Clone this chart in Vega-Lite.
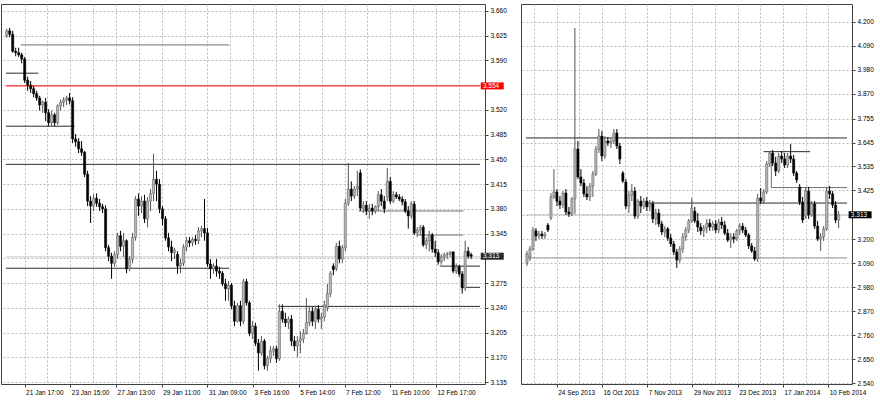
{
"$schema": "https://vega.github.io/schema/vega-lite/v6.json",
"padding": {"left": 0, "top": 3, "right": 0, "bottom": 0},
"background": "white",
"spacing": 36,
"bounds": "flush",
"config": {
  "view": {"stroke": "#404040", "strokeWidth": 1},
  "axis": {"labelFont": "Liberation Sans", "labelFontSize": 6.5, "labelColor": "#000000", "gridColor": "#bcbcbc", "gridDash": [2, 2], "gridWidth": 1, "gridOpacity": 1, "tickColor": "#404040", "tickSize": 3, "domain": false, "labelOverlap": false}
},
"datasets": {
  "left": [
{"i":1,"o":3.625,"h":3.635,"l":3.622,"c":3.632},{"i":2,"o":3.632,"h":3.636,"l":3.623,"c":3.627},{"i":3,"o":3.627,"h":3.632,"l":3.601,"c":3.603},{"i":4,"o":3.603,"h":3.608,"l":3.596,"c":3.601},{"i":5,"o":3.601,"h":3.608,"l":3.595,"c":3.598},{"i":6,"o":3.598,"h":3.601,"l":3.586,"c":3.592},{"i":7,"o":3.592,"h":3.595,"l":3.558,"c":3.562},{"i":8,"o":3.562,"h":3.567,"l":3.547,"c":3.555},{"i":9,"o":3.555,"h":3.561,"l":3.544,"c":3.550},{"i":10,"o":3.550,"h":3.554,"l":3.538,"c":3.543},
{"i":11,"o":3.543,"h":3.547,"l":3.533,"c":3.537},{"i":12,"o":3.537,"h":3.540,"l":3.519,"c":3.527},{"i":13,"o":3.527,"h":3.533,"l":3.516,"c":3.531},{"i":14,"o":3.531,"h":3.537,"l":3.504,"c":3.516},{"i":15,"o":3.516,"h":3.521,"l":3.497,"c":3.502},{"i":16,"o":3.502,"h":3.519,"l":3.497,"c":3.513},{"i":17,"o":3.513,"h":3.516,"l":3.497,"c":3.502},{"i":18,"o":3.502,"h":3.528,"l":3.499,"c":3.526},{"i":19,"o":3.526,"h":3.535,"l":3.519,"c":3.531},{"i":20,"o":3.531,"h":3.538,"l":3.524,"c":3.534},
{"i":21,"o":3.534,"h":3.540,"l":3.527,"c":3.537},{"i":22,"o":3.537,"h":3.544,"l":3.528,"c":3.533},{"i":23,"o":3.533,"h":3.538,"l":3.473,"c":3.479},{"i":24,"o":3.479,"h":3.486,"l":3.468,"c":3.475},{"i":25,"o":3.475,"h":3.480,"l":3.459,"c":3.465},{"i":26,"o":3.465,"h":3.476,"l":3.455,"c":3.460},{"i":27,"o":3.460,"h":3.462,"l":3.425,"c":3.429},{"i":28,"o":3.429,"h":3.434,"l":3.384,"c":3.391},{"i":29,"o":3.391,"h":3.398,"l":3.360,"c":3.384},{"i":30,"o":3.384,"h":3.401,"l":3.377,"c":3.395},
{"i":31,"o":3.395,"h":3.402,"l":3.383,"c":3.388},{"i":32,"o":3.388,"h":3.394,"l":3.377,"c":3.383},{"i":33,"o":3.383,"h":3.387,"l":3.374,"c":3.380},{"i":34,"o":3.380,"h":3.385,"l":3.320,"c":3.325},{"i":35,"o":3.325,"h":3.329,"l":3.306,"c":3.313},{"i":36,"o":3.313,"h":3.318,"l":3.281,"c":3.303},{"i":37,"o":3.303,"h":3.320,"l":3.298,"c":3.315},{"i":38,"o":3.315,"h":3.346,"l":3.309,"c":3.342},{"i":39,"o":3.342,"h":3.349,"l":3.320,"c":3.327},{"i":40,"o":3.327,"h":3.346,"l":3.312,"c":3.335},
{"i":41,"o":3.335,"h":3.337,"l":3.289,"c":3.295},{"i":42,"o":3.295,"h":3.313,"l":3.292,"c":3.309},{"i":43,"o":3.309,"h":3.346,"l":3.303,"c":3.340},{"i":44,"o":3.340,"h":3.398,"l":3.335,"c":3.394},{"i":45,"o":3.394,"h":3.402,"l":3.370,"c":3.384},{"i":46,"o":3.384,"h":3.398,"l":3.374,"c":3.391},{"i":47,"o":3.391,"h":3.400,"l":3.360,"c":3.366},{"i":48,"o":3.366,"h":3.397,"l":3.354,"c":3.391},{"i":49,"o":3.391,"h":3.408,"l":3.377,"c":3.402},{"i":50,"o":3.402,"h":3.458,"l":3.391,"c":3.422},
{"i":51,"o":3.422,"h":3.434,"l":3.391,"c":3.415},{"i":52,"o":3.415,"h":3.422,"l":3.374,"c":3.380},{"i":53,"o":3.380,"h":3.384,"l":3.357,"c":3.366},{"i":54,"o":3.366,"h":3.370,"l":3.335,"c":3.339},{"i":55,"o":3.339,"h":3.346,"l":3.320,"c":3.326},{"i":56,"o":3.326,"h":3.335,"l":3.306,"c":3.318},{"i":57,"o":3.318,"h":3.325,"l":3.309,"c":3.322},{"i":58,"o":3.316,"h":3.320,"l":3.288,"c":3.299},{"i":59,"o":3.299,"h":3.309,"l":3.289,"c":3.303},{"i":60,"o":3.303,"h":3.330,"l":3.299,"c":3.326},
{"i":61,"o":3.326,"h":3.340,"l":3.320,"c":3.335},{"i":62,"o":3.335,"h":3.340,"l":3.326,"c":3.332},{"i":63,"o":3.332,"h":3.340,"l":3.327,"c":3.337},{"i":64,"o":3.337,"h":3.343,"l":3.329,"c":3.335},{"i":65,"o":3.335,"h":3.354,"l":3.330,"c":3.349},{"i":66,"o":3.349,"h":3.356,"l":3.340,"c":3.352},{"i":67,"o":3.352,"h":3.394,"l":3.335,"c":3.346},{"i":68,"o":3.346,"h":3.353,"l":3.298,"c":3.302},{"i":69,"o":3.302,"h":3.309,"l":3.281,"c":3.295},{"i":70,"o":3.295,"h":3.303,"l":3.288,"c":3.299},
{"i":71,"o":3.299,"h":3.309,"l":3.284,"c":3.292},{"i":72,"o":3.292,"h":3.298,"l":3.281,"c":3.289},{"i":73,"o":3.289,"h":3.292,"l":3.271,"c":3.274},{"i":74,"o":3.274,"h":3.281,"l":3.250,"c":3.267},{"i":75,"o":3.267,"h":3.278,"l":3.250,"c":3.272},{"i":76,"o":3.272,"h":3.275,"l":3.238,"c":3.243},{"i":77,"o":3.243,"h":3.250,"l":3.214,"c":3.221},{"i":78,"o":3.221,"h":3.247,"l":3.219,"c":3.243},{"i":79,"o":3.243,"h":3.250,"l":3.214,"c":3.221},{"i":80,"o":3.221,"h":3.281,"l":3.217,"c":3.277},
{"i":81,"o":3.277,"h":3.281,"l":3.243,"c":3.247},{"i":82,"o":3.247,"h":3.250,"l":3.200,"c":3.204},{"i":83,"o":3.204,"h":3.221,"l":3.196,"c":3.214},{"i":84,"o":3.214,"h":3.219,"l":3.186,"c":3.190},{"i":85,"o":3.190,"h":3.196,"l":3.151,"c":3.176},{"i":86,"o":3.176,"h":3.200,"l":3.172,"c":3.193},{"i":87,"o":3.193,"h":3.196,"l":3.153,"c":3.158},{"i":88,"o":3.158,"h":3.172,"l":3.151,"c":3.168},{"i":89,"o":3.168,"h":3.186,"l":3.162,"c":3.179},{"i":90,"o":3.179,"h":3.186,"l":3.172,"c":3.182},
{"i":91,"o":3.182,"h":3.186,"l":3.162,"c":3.168},{"i":92,"o":3.168,"h":3.245,"l":3.165,"c":3.235},{"i":93,"o":3.235,"h":3.245,"l":3.219,"c":3.224},{"i":94,"o":3.224,"h":3.233,"l":3.213,"c":3.219},{"i":95,"o":3.219,"h":3.228,"l":3.210,"c":3.224},{"i":96,"o":3.224,"h":3.230,"l":3.186,"c":3.193},{"i":97,"o":3.193,"h":3.200,"l":3.179,"c":3.186},{"i":98,"o":3.186,"h":3.200,"l":3.170,"c":3.193},{"i":99,"o":3.193,"h":3.207,"l":3.176,"c":3.196},{"i":100,"o":3.196,"h":3.210,"l":3.190,"c":3.204},
{"i":101,"o":3.204,"h":3.254,"l":3.202,"c":3.219},{"i":102,"o":3.219,"h":3.243,"l":3.214,"c":3.235},{"i":103,"o":3.235,"h":3.241,"l":3.214,"c":3.221},{"i":104,"o":3.221,"h":3.243,"l":3.210,"c":3.238},{"i":105,"o":3.238,"h":3.244,"l":3.219,"c":3.224},{"i":106,"o":3.224,"h":3.233,"l":3.210,"c":3.227},{"i":107,"o":3.227,"h":3.250,"l":3.221,"c":3.244},{"i":108,"o":3.240,"h":3.274,"l":3.235,"c":3.260},{"i":109,"o":3.260,"h":3.292,"l":3.255,"c":3.289},{"i":110,"o":3.299,"h":3.303,"l":3.286,"c":3.294},
{"i":111,"o":3.295,"h":3.332,"l":3.292,"c":3.327},{"i":112,"o":3.327,"h":3.335,"l":3.303,"c":3.309},{"i":113,"o":3.309,"h":3.329,"l":3.303,"c":3.325},{"i":114,"o":3.325,"h":3.394,"l":3.320,"c":3.388},{"i":115,"o":3.388,"h":3.445,"l":3.384,"c":3.408},{"i":116,"o":3.408,"h":3.419,"l":3.391,"c":3.398},{"i":117,"o":3.398,"h":3.412,"l":3.394,"c":3.408},{"i":118,"o":3.408,"h":3.434,"l":3.398,"c":3.412},{"i":119,"o":3.431,"h":3.436,"l":3.377,"c":3.381},{"i":120,"o":3.381,"h":3.391,"l":3.374,"c":3.385},
{"i":121,"o":3.385,"h":3.391,"l":3.371,"c":3.377},{"i":122,"o":3.377,"h":3.387,"l":3.366,"c":3.381},{"i":123,"o":3.381,"h":3.387,"l":3.371,"c":3.377},{"i":124,"o":3.377,"h":3.385,"l":3.373,"c":3.383},{"i":125,"o":3.383,"h":3.405,"l":3.377,"c":3.400},{"i":126,"o":3.400,"h":3.408,"l":3.384,"c":3.391},{"i":127,"o":3.391,"h":3.398,"l":3.374,"c":3.380},{"i":128,"o":3.397,"h":3.438,"l":3.391,"c":3.419},{"i":129,"o":3.419,"h":3.425,"l":3.387,"c":3.391},{"i":130,"o":3.391,"h":3.405,"l":3.388,"c":3.400},
{"i":131,"o":3.400,"h":3.404,"l":3.394,"c":3.397},{"i":132,"o":3.397,"h":3.401,"l":3.391,"c":3.394},{"i":133,"o":3.394,"h":3.398,"l":3.385,"c":3.390},{"i":134,"o":3.390,"h":3.394,"l":3.374,"c":3.377},{"i":135,"o":3.377,"h":3.384,"l":3.352,"c":3.370},{"i":136,"o":3.370,"h":3.391,"l":3.366,"c":3.387},{"i":137,"o":3.387,"h":3.391,"l":3.343,"c":3.346},{"i":138,"o":3.346,"h":3.354,"l":3.340,"c":3.350},{"i":139,"o":3.350,"h":3.357,"l":3.343,"c":3.354},{"i":140,"o":3.354,"h":3.357,"l":3.326,"c":3.329},
{"i":141,"o":3.329,"h":3.340,"l":3.323,"c":3.335},{"i":142,"o":3.335,"h":3.349,"l":3.320,"c":3.343},{"i":143,"o":3.343,"h":3.346,"l":3.318,"c":3.323},{"i":144,"o":3.323,"h":3.335,"l":3.312,"c":3.318},{"i":145,"o":3.318,"h":3.323,"l":3.301,"c":3.305},{"i":146,"o":3.305,"h":3.316,"l":3.301,"c":3.312},{"i":147,"o":3.312,"h":3.318,"l":3.306,"c":3.315},{"i":148,"o":3.315,"h":3.319,"l":3.309,"c":3.316},{"i":149,"o":3.316,"h":3.320,"l":3.312,"c":3.319},{"i":150,"o":3.319,"h":3.320,"l":3.289,"c":3.292},
{"i":151,"o":3.292,"h":3.303,"l":3.288,"c":3.298},{"i":152,"o":3.298,"h":3.301,"l":3.284,"c":3.288},{"i":153,"o":3.288,"h":3.292,"l":3.260,"c":3.268},{"i":154,"o":3.268,"h":3.335,"l":3.264,"c":3.320},{"i":155,"o":3.320,"h":3.326,"l":3.310,"c":3.313},{"i":156,"o":3.315,"h":3.318,"l":3.309,"c":3.313}
  ],
  "right": [
{"i":1,"o":3.092,"h":3.147,"l":3.078,"c":3.133},{"i":2,"o":3.119,"h":3.170,"l":3.101,"c":3.156},{"i":3,"o":3.156,"h":3.257,"l":3.147,"c":3.243},{"i":4,"o":3.239,"h":3.252,"l":3.193,"c":3.216},{"i":5,"o":3.216,"h":3.239,"l":3.202,"c":3.225},{"i":6,"o":3.225,"h":3.239,"l":3.202,"c":3.216},{"i":7,"o":3.216,"h":3.234,"l":3.202,"c":3.225},{"i":8,"o":3.266,"h":3.275,"l":3.234,"c":3.243},{"i":9,"o":3.298,"h":3.413,"l":3.289,"c":3.395},{"i":10,"o":3.395,"h":3.523,"l":3.386,"c":3.418},
{"i":11,"o":3.418,"h":3.431,"l":3.353,"c":3.376},{"i":12,"o":3.376,"h":3.399,"l":3.340,"c":3.358},{"i":13,"o":3.358,"h":3.422,"l":3.344,"c":3.413},{"i":14,"o":3.413,"h":3.431,"l":3.312,"c":3.326},{"i":15,"o":3.326,"h":3.349,"l":3.303,"c":3.317},{"i":16,"o":3.317,"h":3.395,"l":3.307,"c":3.386},{"i":17,"o":3.386,"h":4.171,"l":3.317,"c":3.615},{"i":18,"o":3.615,"h":3.652,"l":3.477,"c":3.487},{"i":19,"o":3.487,"h":3.523,"l":3.445,"c":3.459},{"i":20,"o":3.459,"h":3.477,"l":3.395,"c":3.409},
{"i":21,"o":3.409,"h":3.445,"l":3.381,"c":3.395},{"i":22,"o":3.395,"h":3.459,"l":3.376,"c":3.445},{"i":23,"o":3.445,"h":3.514,"l":3.395,"c":3.500},{"i":24,"o":3.500,"h":3.629,"l":3.491,"c":3.615},{"i":25,"o":3.615,"h":3.707,"l":3.597,"c":3.675},{"i":26,"o":3.675,"h":3.698,"l":3.560,"c":3.583},{"i":27,"o":3.583,"h":3.675,"l":3.569,"c":3.652},{"i":28,"o":3.652,"h":3.670,"l":3.629,"c":3.643},{"i":29,"o":3.643,"h":3.661,"l":3.620,"c":3.652},{"i":30,"o":3.652,"h":3.707,"l":3.638,"c":3.689},
{"i":31,"o":3.689,"h":3.707,"l":3.615,"c":3.629},{"i":32,"o":3.629,"h":3.643,"l":3.546,"c":3.569},{"i":33,"o":3.505,"h":3.514,"l":3.459,"c":3.468},{"i":34,"o":3.464,"h":3.477,"l":3.340,"c":3.353},{"i":35,"o":3.353,"h":3.422,"l":3.321,"c":3.404},{"i":36,"o":3.404,"h":3.454,"l":3.376,"c":3.422},{"i":37,"o":3.422,"h":3.441,"l":3.294,"c":3.307},{"i":38,"o":3.307,"h":3.386,"l":3.294,"c":3.376},{"i":39,"o":3.376,"h":3.399,"l":3.321,"c":3.353},{"i":40,"o":3.353,"h":3.390,"l":3.340,"c":3.376},
{"i":41,"o":3.376,"h":3.395,"l":3.330,"c":3.349},{"i":42,"o":3.349,"h":3.381,"l":3.330,"c":3.363},{"i":43,"o":3.363,"h":3.376,"l":3.275,"c":3.294},{"i":44,"o":3.294,"h":3.340,"l":3.266,"c":3.321},{"i":45,"o":3.321,"h":3.340,"l":3.257,"c":3.271},{"i":46,"o":3.271,"h":3.285,"l":3.220,"c":3.234},{"i":47,"o":3.234,"h":3.261,"l":3.211,"c":3.248},{"i":48,"o":3.248,"h":3.257,"l":3.193,"c":3.206},{"i":49,"o":3.206,"h":3.225,"l":3.165,"c":3.179},{"i":50,"o":3.179,"h":3.193,"l":3.128,"c":3.142},
{"i":51,"o":3.142,"h":3.156,"l":3.069,"c":3.105},{"i":52,"o":3.105,"h":3.170,"l":3.092,"c":3.156},{"i":53,"o":3.156,"h":3.229,"l":3.138,"c":3.211},{"i":54,"o":3.211,"h":3.257,"l":3.193,"c":3.243},{"i":55,"o":3.243,"h":3.294,"l":3.229,"c":3.285},{"i":56,"o":3.285,"h":3.390,"l":3.275,"c":3.344},{"i":57,"o":3.330,"h":3.349,"l":3.275,"c":3.285},{"i":58,"o":3.285,"h":3.321,"l":3.234,"c":3.257},{"i":59,"o":3.257,"h":3.275,"l":3.220,"c":3.239},{"i":60,"o":3.239,"h":3.266,"l":3.211,"c":3.252},
{"i":61,"o":3.252,"h":3.294,"l":3.229,"c":3.275},{"i":62,"o":3.275,"h":3.294,"l":3.239,"c":3.257},{"i":63,"o":3.257,"h":3.285,"l":3.239,"c":3.271},{"i":64,"o":3.271,"h":3.289,"l":3.229,"c":3.243},{"i":65,"o":3.243,"h":3.294,"l":3.229,"c":3.280},{"i":66,"o":3.280,"h":3.303,"l":3.248,"c":3.266},{"i":67,"o":3.266,"h":3.285,"l":3.220,"c":3.229},{"i":68,"o":3.229,"h":3.248,"l":3.188,"c":3.197},{"i":69,"o":3.197,"h":3.229,"l":3.161,"c":3.211},{"i":70,"o":3.211,"h":3.229,"l":3.183,"c":3.202},
{"i":71,"o":3.202,"h":3.248,"l":3.193,"c":3.239},{"i":72,"o":3.239,"h":3.275,"l":3.220,"c":3.261},{"i":73,"o":3.261,"h":3.275,"l":3.229,"c":3.243},{"i":74,"o":3.243,"h":3.257,"l":3.211,"c":3.220},{"i":75,"o":3.220,"h":3.229,"l":3.156,"c":3.170},{"i":76,"o":3.170,"h":3.183,"l":3.138,"c":3.147},{"i":77,"o":3.147,"h":3.165,"l":3.101,"c":3.110},{"i":78,"o":3.110,"h":3.409,"l":3.096,"c":3.390},{"i":79,"o":3.390,"h":3.436,"l":3.363,"c":3.376},{"i":80,"o":3.376,"h":3.431,"l":3.363,"c":3.418},
{"i":81,"o":3.418,"h":3.560,"l":3.409,"c":3.546},{"i":82,"o":3.546,"h":3.606,"l":3.533,"c":3.597},{"i":83,"o":3.597,"h":3.611,"l":3.537,"c":3.551},{"i":84,"o":3.551,"h":3.579,"l":3.491,"c":3.514},{"i":85,"o":3.514,"h":3.597,"l":3.505,"c":3.583},{"i":86,"o":3.583,"h":3.606,"l":3.551,"c":3.569},{"i":87,"o":3.569,"h":3.597,"l":3.528,"c":3.542},{"i":88,"o":3.542,"h":3.597,"l":3.528,"c":3.583},{"i":89,"o":3.583,"h":3.638,"l":3.551,"c":3.569},{"i":90,"o":3.569,"h":3.588,"l":3.491,"c":3.505},
{"i":91,"o":3.505,"h":3.514,"l":3.459,"c":3.473},{"i":92,"o":3.441,"h":3.454,"l":3.358,"c":3.372},{"i":93,"o":3.372,"h":3.395,"l":3.275,"c":3.289},{"i":94,"o":3.307,"h":3.441,"l":3.294,"c":3.422},{"i":95,"o":3.422,"h":3.441,"l":3.294,"c":3.312},{"i":96,"o":3.312,"h":3.376,"l":3.303,"c":3.363},{"i":97,"o":3.363,"h":3.376,"l":3.248,"c":3.261},{"i":98,"o":3.261,"h":3.285,"l":3.193,"c":3.202},{"i":99,"o":3.202,"h":3.229,"l":3.147,"c":3.211},{"i":100,"o":3.211,"h":3.261,"l":3.193,"c":3.248},
{"i":101,"o":3.248,"h":3.441,"l":3.239,"c":3.422},{"i":102,"o":3.422,"h":3.445,"l":3.386,"c":3.409},{"i":103,"o":3.409,"h":3.422,"l":3.344,"c":3.358},{"i":104,"o":3.358,"h":3.376,"l":3.275,"c":3.289},{"i":105,"o":3.289,"h":3.330,"l":3.252,"c":3.313}
  ],
  "leftLines": [
{"x1":5.67,"x2":75.28,"p1":3.612,"p2":3.612,"kind":"level2"},
{"x1":0.77,"x2":11.56,"p1":3.572,"p2":3.572,"kind":"level"},
{"x1":0.77,"x2":158.94,"p1":3.554,"p2":3.554,"kind":"alert"},
{"x1":0.77,"x2":23.65,"p1":3.497,"p2":3.497,"kind":"level"},
{"x1":0.77,"x2":158.94,"p1":3.443,"p2":3.443,"kind":"level"},
{"x1":0.77,"x2":158.94,"p1":3.312,"p2":3.312,"kind":"bid"},
{"x1":0.77,"x2":75.28,"p1":3.296,"p2":3.296,"kind":"level"},
{"x1":91.62,"x2":158.94,"p1":3.242,"p2":3.242,"kind":"level"},
{"x1":118.42,"x2":153.39,"p1":3.377,"p2":3.377,"kind":"level2"},
{"x1":138.03,"x2":153.39,"p1":3.343,"p2":3.343,"kind":"level2"},
{"x1":145.54,"x2":158.94,"p1":3.299,"p2":3.299,"kind":"level"},
{"x1":153.39,"x2":158.94,"p1":3.269,"p2":3.269,"kind":"level"}
  ],
  "rightLines": [
{"x1":0.68,"x2":107.8,"p1":3.666,"p2":3.666,"kind":"level"},
{"x1":40.48,"x2":107.8,"p1":3.367,"p2":3.367,"kind":"level"},
{"x1":0.68,"x2":107.8,"p1":3.115,"p2":3.115,"kind":"support"},
{"x1":0.68,"x2":107.8,"p1":3.313,"p2":3.313,"kind":"bid"},
{"x1":79.96,"x2":95.5,"p1":3.603,"p2":3.603,"kind":"level"},
{"x1":82.55,"x2":107.8,"p1":3.438,"p2":3.438,"kind":"level2"},
{"x1":82.55,"x2":82.55,"p1":3.592,"p2":3.438,"kind":"level2"}
  ],
  "leftBoxes": [
{"p":3.554,"kind":"alert","label":"3.554"},
{"p":3.313,"kind":"price","label":"3.313"}
  ],
  "rightBoxes": [
{"p":3.313,"kind":"price","label":"3.313"}
  ]
},
"hconcat": [
{
  "width": 484, "height": 380,
  "layer": [
    {
      "data": {"name": "leftLines"},
      "mark": {"type": "rule"},
      "encoding": {
        "x": {"field": "x1", "type": "quantitative", "scale": {"domain": [0.77, 158.94], "nice": false, "zero": false},
              "axis": {"title": null, "tickCount": 100, "values": [6.98,14.605,22.23,29.855,37.48,45.105,52.73,60.355,67.98,75.605,83.23,90.855,98.48,106.105,113.73,121.355,128.98,136.605,144.23,151.855],
                       "labelExpr": "['21 Jan 17:00','','23 Jan 15:00','','27 Jan 13:00','','29 Jan 11:00','','31 Jan 09:00','','3 Feb 16:00','','5 Feb 14:00','','7 Feb 12:00','','11 Feb 10:00','','12 Feb 17:00',''][round((datum.value-6.98)/7.625)]",
                       "labelAlign": "left", "labelOffset": 1, "labelPadding": 2, "grid": true, "labelOverlap": false, "labelFlush": false, "labelBound": false,
                       "tickOpacity": {"condition": {"test": "round((datum.value-6.98)/7.625)%2==1", "value": 0}, "value": 1}}},
        "x2": {"field": "x2"},
        "y": {"field": "p1", "type": "quantitative", "scale": {"domain": [3.1322, 3.6699], "nice": false, "zero": false},
              "axis": {"title": null, "orient": "right", "tickCount": 100, "values": [3.135,3.17,3.205,3.24,3.275,3.31,3.345,3.38,3.415,3.45,3.485,3.52,3.555,3.59,3.625,3.66],
                       "labelExpr": "abs(datum.value-3.555)<0.001 || abs(datum.value-3.31)<0.001 ? '' : format(datum.value,'.3f')",
                       "labelPadding": 2, "grid": true, "labelOverlap": false, "labelFlush": false, "labelBound": false}},
        "y2": {"field": "p2"},
        "color": {"field": "kind", "type": "nominal", "scale": {"domain": ["level","level2","alert","bid","support"], "range": ["#2a2a2a","#707070","#ff0000","#c4c4c4","#8a8a8a"]}, "legend": null},
        "strokeWidth": {"field": "kind", "type": "nominal", "scale": {"domain": ["level","level2","alert","bid","support"], "range": [1,1,1,1,2]}, "legend": null}
      }
    },
    {
      "data": {"name": "left"},
      "mark": {"type": "rule", "strokeWidth": 1},
      "encoding": {
        "x": {"field": "i", "type": "quantitative", "scale": {"domain": [0.77, 158.94], "nice": false, "zero": false}, "axis": {"title": null}},
        "y": {"field": "l", "type": "quantitative", "scale": {"domain": [3.1322, 3.6699], "nice": false, "zero": false}, "axis": {"title": null}},
        "y2": {"field": "h"},
        "color": {"condition": {"test": "datum.c >= datum.o", "value": "#555555"}, "value": "#000000"}
      }
    },
    {
      "data": {"name": "left"},
      "mark": {"type": "bar", "size": 2.2, "strokeWidth": 0.5},
      "encoding": {
        "x": {"field": "i", "type": "quantitative", "scale": {"domain": [0.77, 158.94], "nice": false, "zero": false}, "axis": {"title": null}},
        "y": {"field": "o", "type": "quantitative", "scale": {"domain": [3.1322, 3.6699], "nice": false, "zero": false}, "axis": {"title": null}},
        "y2": {"field": "c"},
        "fill": {"condition": {"test": "datum.c >= datum.o", "value": "#b8b8b8"}, "value": "#000000"},
        "stroke": {"condition": {"test": "datum.c >= datum.o", "value": "#555555"}, "value": "#000000"}
      }
    },
    {
      "data": {"name": "leftBoxes"},
      "mark": {"type": "tick", "orient": "horizontal", "size": 23, "thickness": 7, "clip": false, "opacity": 1},
      "encoding": {
        "x": {"datum": 163.03, "type": "quantitative", "scale": {"domain": [0.77, 158.94], "nice": false, "zero": false}, "axis": {"title": null}},
        "y": {"field": "p", "type": "quantitative", "scale": {"domain": [3.1322, 3.6699], "nice": false, "zero": false}, "axis": {"title": null}},
        "color": {"field": "kind", "type": "nominal", "scale": {"domain": ["alert","price"], "range": ["#ff0000","#000000"]}, "legend": null}
      }
    },
    {
      "data": {"name": "leftBoxes"},
      "mark": {"type": "text", "align": "left", "baseline": "middle", "font": "Liberation Sans", "fontSize": 6.5, "color": "#ffffff", "clip": false},
      "encoding": {
        "x": {"datum": 159.92, "type": "quantitative", "scale": {"domain": [0.77, 158.94], "nice": false, "zero": false}, "axis": {"title": null}},
        "y": {"field": "p", "type": "quantitative", "scale": {"domain": [3.1322, 3.6699], "nice": false, "zero": false}, "axis": {"title": null}},
        "text": {"field": "label"}
      }
    }
  ]
},
{
  "width": 331, "height": 380,
  "layer": [
    {
      "data": {"name": "rightLines"},
      "mark": {"type": "rule"},
      "encoding": {
        "x": {"field": "x1", "type": "quantitative", "scale": {"domain": [0.68, 107.8], "nice": false, "zero": false},
              "axis": {"title": null, "tickCount": 100, "values": [3.39,10.94,18.49,26.04,33.59,41.14,48.69,56.24,63.79,71.34,78.89,86.44,93.99,101.54],
                       "labelExpr": "['','24 Sep 2013','','16 Oct 2013','','7 Nov 2013','','29 Nov 2013','','23 Dec 2013','','17 Jan 2014','','10 Feb 2014'][round((datum.value-10.94)/7.55)+1]",
                       "labelAlign": "left", "labelOffset": 1, "labelPadding": 2, "grid": true, "labelOverlap": false, "labelFlush": false, "labelBound": false,
                       "tickOpacity": {"condition": {"test": "abs(round((datum.value-10.94)/7.55))%2==1", "value": 0}, "value": 1}}},
        "x2": {"field": "x2"},
        "y": {"field": "p1", "type": "quantitative", "scale": {"domain": [2.5358, 4.2813], "nice": false, "zero": false},
              "axis": {"title": null, "orient": "right", "tickCount": 100, "values": [2.54,2.65,2.76,2.87,2.98,3.09,3.2,3.313,3.425,3.535,3.645,3.755,3.87,3.98,4.09,4.2],
                       "labelExpr": "abs(datum.value-3.313)<0.001 ? '' : format(datum.value,'.3f')",
                       "labelPadding": 2, "grid": true, "labelOverlap": false, "labelFlush": false, "labelBound": false}},
        "y2": {"field": "p2"},
        "color": {"field": "kind", "type": "nominal", "scale": {"domain": ["level","level2","alert","bid","support"], "range": ["#2a2a2a","#707070","#ff0000","#c4c4c4","#8a8a8a"]}, "legend": null},
        "strokeWidth": {"field": "kind", "type": "nominal", "scale": {"domain": ["level","level2","alert","bid","support"], "range": [1,1,1,1,2]}, "legend": null}
      }
    },
    {
      "data": {"name": "right"},
      "mark": {"type": "rule", "strokeWidth": 1},
      "encoding": {
        "x": {"field": "i", "type": "quantitative", "scale": {"domain": [0.68, 107.8], "nice": false, "zero": false}, "axis": {"title": null}},
        "y": {"field": "l", "type": "quantitative", "scale": {"domain": [2.5358, 4.2813], "nice": false, "zero": false}, "axis": {"title": null}},
        "y2": {"field": "h"},
        "color": {"condition": {"test": "datum.c >= datum.o", "value": "#555555"}, "value": "#000000"}
      }
    },
    {
      "data": {"name": "right"},
      "mark": {"type": "bar", "size": 2.2, "strokeWidth": 0.5},
      "encoding": {
        "x": {"field": "i", "type": "quantitative", "scale": {"domain": [0.68, 107.8], "nice": false, "zero": false}, "axis": {"title": null}},
        "y": {"field": "o", "type": "quantitative", "scale": {"domain": [2.5358, 4.2813], "nice": false, "zero": false}, "axis": {"title": null}},
        "y2": {"field": "c"},
        "fill": {"condition": {"test": "datum.c >= datum.o", "value": "#b8b8b8"}, "value": "#000000"},
        "stroke": {"condition": {"test": "datum.c >= datum.o", "value": "#555555"}, "value": "#000000"}
      }
    },
    {
      "data": {"name": "rightBoxes"},
      "mark": {"type": "tick", "orient": "horizontal", "size": 23, "thickness": 7, "clip": false, "opacity": 1},
      "encoding": {
        "x": {"datum": 112.17, "type": "quantitative", "scale": {"domain": [0.68, 107.8], "nice": false, "zero": false}, "axis": {"title": null}},
        "y": {"field": "p", "type": "quantitative", "scale": {"domain": [2.5358, 4.2813], "nice": false, "zero": false}, "axis": {"title": null}},
        "color": {"value": "#000000"}
      }
    },
    {
      "data": {"name": "rightBoxes"},
      "mark": {"type": "text", "align": "left", "baseline": "middle", "font": "Liberation Sans", "fontSize": 6.5, "color": "#ffffff", "clip": false},
      "encoding": {
        "x": {"datum": 109.09, "type": "quantitative", "scale": {"domain": [0.68, 107.8], "nice": false, "zero": false}, "axis": {"title": null}},
        "y": {"field": "p", "type": "quantitative", "scale": {"domain": [2.5358, 4.2813], "nice": false, "zero": false}, "axis": {"title": null}},
        "text": {"field": "label"}
      }
    }
  ]
}
]
}
